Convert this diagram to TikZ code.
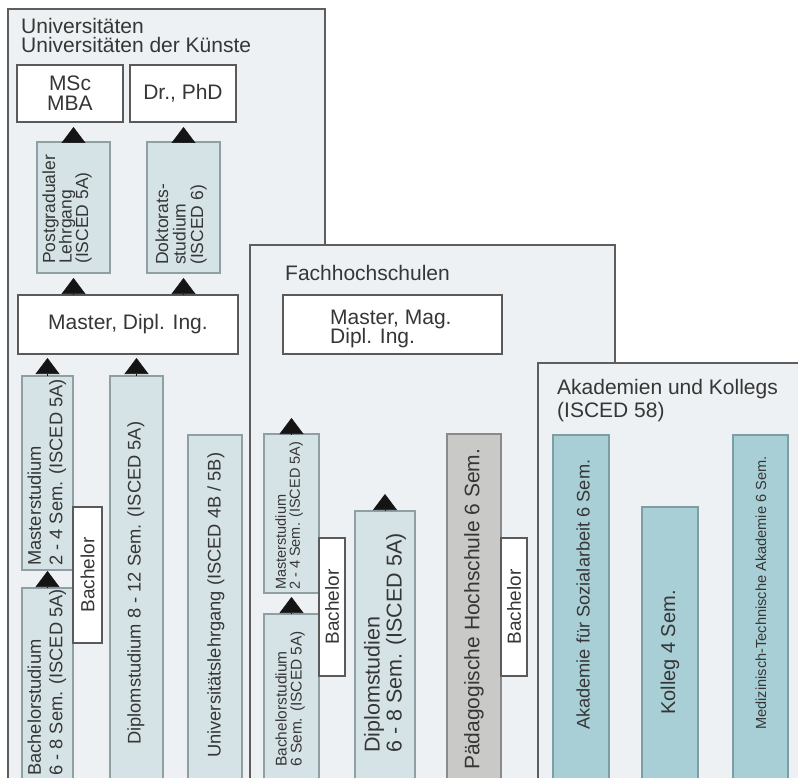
\documentclass[tikz,border=0pt]{standalone}
\usepackage{fontspec}
\setmainfont{Liberation Sans}
\usetikzlibrary{arrows.meta}
\definecolor{panelfill}{HTML}{EDF1F3}
\definecolor{paneldraw}{HTML}{5E5E5E}
\definecolor{barfill}{HTML}{D5E3E7}
\definecolor{bardraw}{HTML}{8FA0A5}
\definecolor{acadfill}{HTML}{A8CED6}
\definecolor{acaddraw}{HTML}{7D9EA5}
\definecolor{paedfill}{HTML}{C9C9C7}
\definecolor{paeddraw}{HTML}{8A8A8A}
\definecolor{boxdraw}{HTML}{5A5A5A}
\definecolor{textc}{HTML}{363636}
\newcommand\myfs[2]{\fontsize{#1}{#2}\selectfont}
\begin{document}
\begin{tikzpicture}[x=1pt,y=-1pt,
  panel/.style={draw=paneldraw, fill=panelfill, line width=1.6pt, anchor=north west, inner sep=0, outer sep=0},
  lbar/.style={draw=bardraw, fill=barfill, line width=1.1pt, anchor=north west, inner sep=0, outer sep=0},
  abar/.style={draw=acaddraw, fill=acadfill, line width=1.1pt, anchor=north west, inner sep=0, outer sep=0},
  gbar/.style={draw=paeddraw, fill=paedfill, line width=1.1pt, anchor=north west, inner sep=0, outer sep=0},
  wbox/.style={draw=boxdraw, fill=white, line width=1.3pt, inner sep=0, outer sep=0, text=textc, align=center, font=\myfs{21}{20}},
  ttl/.style={inner sep=0, text=textc, font=\myfs{21}{19}, anchor=base west},
  rtxt/.style={inner sep=0, text=textc, rotate=90, anchor=west, align=left},
  tri/.style={-{Triangle[width=24pt,length=16pt]}, draw=black!92, line width=0.6pt}
]
\useasboundingbox (0,0) rectangle (798,778);
\clip (0,0) rectangle (798,778);

% ---------- Universitaeten ----------
\node[panel, minimum width=317, minimum height=820] (uni) at (8,9) {};
\node[ttl] (unit1) at (21,34) {Universitäten};
\node[ttl] (unit2) at (21,53) {Universitäten der Künste};
\node[wbox, anchor=north west, minimum width=106, minimum height=57] (msc) at (17,65) {MSc\\MBA};
\node[wbox, anchor=north west, minimum width=106, minimum height=57] (phd) at (130,65) {Dr., PhD};
\node[lbar, minimum width=73, minimum height=131] (pg) at (37,142) {};
\node[rtxt, font=\myfs{17.5}{16.5}] (pgt) at (67,264) {Postgradualer\\Lehrgang\\(ISCED 5A)};
\node[lbar, minimum width=73, minimum height=131] (dok) at (147,142) {};
\node[rtxt, font=\myfs{17.5}{17.5}] (dokt) at (181,265) {Doktorats-\\studium\\(ISCED 6)};
\node[wbox, anchor=north west, minimum width=220, minimum height=59] (mdi) at (18,295) {Master, Dipl. Ing.};
\node[lbar, minimum width=51, minimum height=194] (um) at (22,376) {};
\node[rtxt, font=\myfs{18.3}{21.5}] (umt) at (47,566) {Masterstudium\\2 - 4 Sem. (ISCED 5A)};
\node[lbar, minimum width=51, minimum height=230] (ub) at (22,588) {};
\node[rtxt, font=\myfs{18.3}{21.5}] (ubt) at (47,776) {Bachelorstudium\\6 - 8 Sem. (ISCED 5A)};
\node[wbox, rotate=90, minimum width=136, minimum height=29, font=\myfs{19}{19}] (ubach) at (87.5,575) {Bachelor};
\node[lbar, minimum width=53, minimum height=440] (ud) at (110,376) {};
\node[rtxt, font=\myfs{18.3}{20}] (udt) at (136,745) {Diplomstudium 8 - 12 Sem. (ISCED 5A)};
\node[lbar, minimum width=54, minimum height=380] (ul) at (188,435) {};
\node[rtxt, font=\myfs{18.3}{20}] (ult) at (216,758) {Universitätslehrgang (ISCED 4B / 5B)};

\draw[tri, shorten >=5pt] (pg.north) -- (pg.north |- msc.south);
\draw[tri, shorten >=5pt] (dok.north) -- (dok.north |- phd.south);
\draw[tri, shorten >=5pt] (mdi.north -| pg.south) -- (pg.south);
\draw[tri, shorten >=5pt] (mdi.north -| dok.south) -- (dok.south);
\draw[tri, shorten >=4pt] (um.north) -- (um.north |- mdi.south);
\draw[tri, shorten >=4pt] (ud.north) -- (ud.north |- mdi.south);
\draw[tri, shorten >=1pt] (ub.north) -- (ub.north |- um.south);

% ---------- Fachhochschulen ----------
\node[panel, minimum width=365, minimum height=600] (fh) at (250,245) {};
\node[ttl] (fht) at (285,280) {Fachhochschulen};
\node[wbox, anchor=north west, minimum width=219, minimum height=59] (fhmd) at (283,295) {};
\node[ttl] (fhmd1) at (330,324) {Master, Mag.};
\node[ttl] (fhmd2) at (330,343) {Dipl. Ing.};
\node[lbar, minimum width=55, minimum height=159] (fm) at (264,434) {};
\node[rtxt, font=\myfs{14.5}{14}] (fmt) at (289,590) {Masterstudium\\2 - 4 Sem. (ISCED 5A)};
\node[lbar, minimum width=55, minimum height=200] (fb) at (264,614) {};
\node[rtxt, font=\myfs{15.5}{15}] (fbt) at (290,767) {Bachelorstudium\\6 Sem. (ISCED 5A)};
\node[wbox, rotate=90, minimum width=138, minimum height=26, font=\myfs{19}{19}] (fbach) at (332,607) {Bachelor};
\node[lbar, minimum width=60, minimum height=300] (fd) at (355,511) {};
\node[rtxt, font=\myfs{21.5}{22}] (fdt) at (385,753) {Diplomstudien\\6 - 8 Sem. (ISCED 5A)};
\node[gbar, minimum width=54, minimum height=380] (pd) at (447,434) {};
\node[rtxt, font=\myfs{21}{21}] (pdt) at (474,770) {Pädagogische Hochschule 6 Sem.};
\node[wbox, rotate=90, minimum width=138, minimum height=26, font=\myfs{19}{19}] (pbach) at (514,607) {Bachelor};
\coordinate (fmtip) at (291.5,418);
\coordinate (fdtip) at (385,494);
\draw[tri] (fm.north) -- (fmtip);
\draw[tri] (fd.north) -- (fdtip);
\draw[tri, shorten >=4pt] (fb.north) -- (fb.north |- fm.south);

% ---------- Akademien und Kollegs ----------
\node[panel, minimum width=280, minimum height=450] (ak) at (538,363) {};
\node[ttl] (akt1) at (557,394) {Akademien und Kollegs};
\node[ttl] (akt2) at (557,417) {(ISCED 58)};
\node[abar, minimum width=56, minimum height=360] (as) at (553,435) {};
\node[rtxt, font=\myfs{18.2}{18}] (ast) at (583,730) {Akademie für Sozialarbeit 6 Sem.};
\node[abar, minimum width=56, minimum height=300] (ko) at (642,507) {};
\node[rtxt, font=\myfs{20}{20}] (kot) at (670,715) {Kolleg 4 Sem.};
\node[abar, minimum width=55, minimum height=360] (mt) at (733,435) {};
\node[rtxt, font=\myfs{14.6}{14}] (mtt) at (761,730) {Medizinisch-Technische Akademie 6 Sem.};
\end{tikzpicture}
\end{document}
